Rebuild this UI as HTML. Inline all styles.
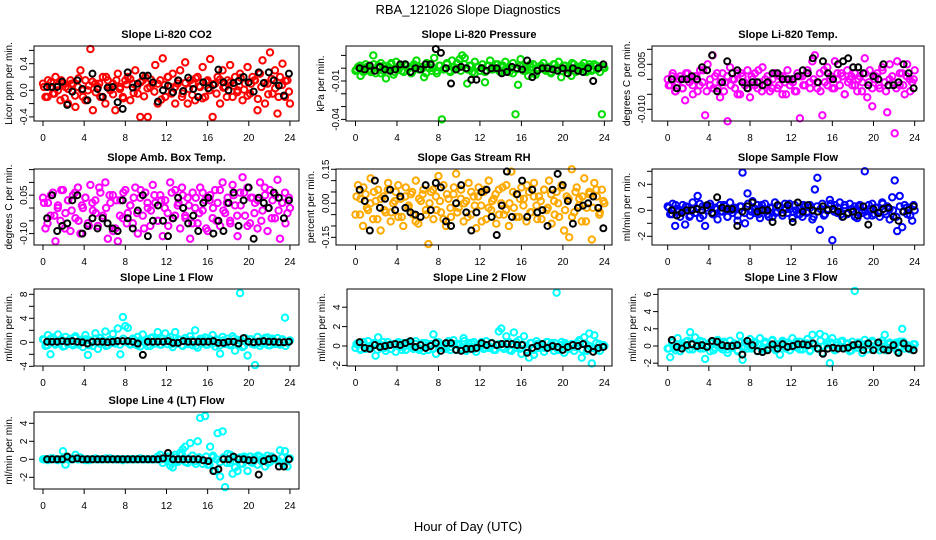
<!DOCTYPE html>
<html><head><meta charset="utf-8"><style>
body{margin:0;background:#fff}
svg{display:block;font-family:"Liberation Sans",sans-serif}
</style></head><body>
<svg id="chart" width="936" height="540" viewBox="0 0 936 540">
<rect width="936" height="540" fill="#fff"/>
<text x="468" y="14" text-anchor="middle" font-size="13">RBA_121026  Slope Diagnostics</text>
<text x="468" y="531" text-anchor="middle" font-size="13">Hour of Day (UTC)</text>
</svg>
<script>
const xTicks = [0,4,8,12,16,20,24];
const titles = ["Slope Li-820 CO2","Slope Li-820 Pressure","Slope Li-820 Temp.","Slope Amb. Box Temp.","Slope Gas Stream RH","Slope Sample Flow","Slope Line 1 Flow","Slope Line 2 Flow","Slope Line 3 Flow","Slope Line 4 (LT) Flow"];
const yTitles = ["Licor ppm per min.","kPa per min.","degrees C per min.","degrees C per min.","percent per min.","ml/min per min.","ml/min per min.","ml/min per min.","ml/min per min.","ml/min per min."];
const colors = ["#ff0000","#00dd00","#ff00ff","#ff00ff","#ffaa00","#0000ff","#00ffff","#00ffff","#00ffff","#00ffff"];
const yTicks = [[-0.4,-0.2,0,0.2,0.4,0.6],[-0.04,-0.03,-0.02,-0.01,0,0.01],[-0.01,-0.005,0,0.005,0.01],[-0.1,-0.05,0,0.05,0.1,0.15],[-0.15,-0.1,-0.05,0,0.05,0.1,0.15],[-2,-1,0,1,2,3],[-4,-2,0,2,4,6,8],[-2,0,2,4],[-2,0,2,4,6],[-2,0,2,4]];
const yLabels = [{"-0.4":"-0.4","0":"0.0","0.4":"0.4"},{"-0.04":"-0.04","-0.01":"-0.01"},{"-0.01":"-0.010","0.005":"0.005"},{"-0.1":"-0.10","0.05":"0.05"},{"-0.15":"-0.15","0":"0.00","0.15":"0.15"},{"-2":"-2","0":"0","2":"2"},{"-4":"-4","0":"0","4":"4","8":"8"},{"-2":"-2","0":"0","2":"2","4":"4"},{"-2":"-2","0":"0","2":"2","4":"4","6":"6"},{"-2":"-2","0":"0","2":"2","4":"4"}];

const colored0 = [0.1,-0.1,0.15,0.05,-0.05,0.2,0,-0.15,0.1,0.05,-0.2,0.15,0.1,-0.25,0.05,0.3,-0.1,0.15,0,0.62,-0.3,0.1,0.05,-0.1,0.2,-0.2,0.15,0,0.1,-0.3,0.25,0.05,-0.1,0.15,0.2,-0.15,0.1,0.3,-0.05,-0.4,0.15,0.2,-0.4,0.05,0.1,0.38,-0.2,0.15,0.48,-0.1,0.2,0.05,0.25,-0.2,0.1,0.3,-0.05,0.42,-0.2,0.15,0.1,-0.15,0.2,0.05,0.35,-0.1,0.15,0.47,-0.4,0.1,0.2,-0.2,0.3,0.05,0.15,0.38,-0.1,0.2,0,0.25,-0.15,0.1,0.35,-0.05,0.2,0.15,-0.3,0.25,0.45,-0.2,0.1,0.57,-0.05,0.3,-0.35,0.2,0.4,-0.1,0.15,-0.2];
const core0 = [0.05,-0.1,0.12,-0.05,0.08,0.15,-0.12,0.02,0.1,-0.08,0.18,0.0,-0.15,0.07,0.13,-0.03,0.1,-0.1,0.2,0.04,-0.06,0.15,0.02,-0.12,0.09,0.17,-0.04,0.06,0.12,-0.09,0.03,0.16,-0.02,0.1,-0.14,0.08,0.2,-0.05,0.05,0.14,-0.1,0.11,0.02,-0.07,0.18,0.06,-0.12,0.13,0.0,0.09,-0.05,0.16,0.04,-0.1,0.12,0.07,-0.03,0.19,0.01,-0.08,0.1,0.15,-0.13,0.05,0.11,-0.06,0.17,0.03,-0.1,0.08,0.14,-0.02];
const black0 = [0.05,0.05,0.05,0.13,-0.22,-0.02,0.15,0.02,-0.15,0.25,0.02,-0.1,0.04,0.05,-0.18,-0.28,0.27,0.04,0.1,0.22,0.22,0.12,-0.17,0.0,0.07,-0.03,0.15,-0.01,0.19,0.02,-0.1,0.12,0.03,0.08,0.31,0.12,0.0,0.11,0.14,0.2,0.12,-0.02,0.27,0.11,0.27,0.15,0.07,-0.08,0.25];
const colored1 = [-0.002,0.001,-0.006,0.000,0.003,-0.001,-0.003,0.010,-0.004,0.002,0.004,-0.002,-0.008,0.001,0.003,-0.005,0.005,-0.001,0.002,-0.003,0.002,0.000,-0.004,0.003,0.006,-0.001,0.001,-0.007,0.004,0.000,-0.002,0.008,-0.004,0.002,-0.040,0.000,0.003,-0.002,0.006,-0.001,0.004,0.007,0.010,0.008,-0.012,0.002,-0.003,0.005,0.001,-0.002,0.003,-0.011,0.002,0.006,-0.001,0.000,0.003,-0.003,0.002,0.005,-0.001,0.001,-0.004,-0.036,-0.013,0.007,0.002,-0.002,-0.006,0.001,0.003,-0.005,0.000,0.002,0.004,-0.002,0.001,-0.004,0.003,0.000,0.005,-0.007,0.002,-0.001,0.001,-0.006,0.003,0.000,-0.002,0.002,0.004,-0.003,0.001,-0.002,0.003,-0.001,0.001,-0.036,0.000];
const core1 = [-0.001,0.002,-0.003,0.001,-0.002,0.003,0.000,-0.004,0.002,-0.001,0.004,-0.003,0.001,-0.002,0.003,0.000,-0.003,0.002,-0.001,0.001,-0.004,0.003,0.000,-0.002,0.002,-0.001,0.004,-0.003,0.001,0.000,-0.002,0.003,-0.001,0.002,-0.004,0.001,0.000,-0.003,0.002,-0.001,0.003,-0.002,0.001,0.000,-0.003,0.004,-0.001,0.002,-0.002,0.001,0.003,-0.004,0.000,0.002,-0.001,0.001,-0.003,0.003,0.000,-0.002,0.002,-0.001,0.004,-0.003,0.001,0.000,-0.002,0.003,-0.001,0.002,-0.003,0.001];
const black1 = [0.000,-0.001,0.002,-0.002,0.001,-0.001,-0.002,-0.001,0.003,0.003,-0.003,0.000,-0.001,0.003,0.003,0.015,0.012,0.000,-0.012,-0.001,0.001,0.000,-0.009,-0.009,0.000,-0.002,0.000,0.000,-0.004,-0.003,0.001,0.000,-0.001,0.006,-0.007,-0.002,0.000,0.000,-0.001,-0.002,0.000,-0.004,0.000,-0.002,-0.003,0.000,-0.010,0.000,0.003];
const colored2 = [0.000,-0.002,0.002,-0.004,-0.001,0.001,-0.003,-0.007,0.002,0.000,-0.002,0.001,-0.004,0.003,-0.001,-0.012,0.005,-0.002,0.008,0.001,-0.003,-0.006,0.002,-0.001,-0.014,0.004,0.000,-0.003,0.002,-0.005,0.001,-0.002,0.003,-0.006,0.000,0.002,-0.003,-0.001,0.004,-0.002,0.001,-0.004,0.000,0.002,-0.003,0.001,-0.005,-0.001,0.003,-0.002,0.000,-0.004,0.002,-0.013,0.001,-0.002,0.003,-0.001,0.006,0.008,-0.003,0.002,-0.012,-0.001,0.004,0.000,-0.003,0.006,0.002,-0.002,0.001,-0.005,0.003,0.000,-0.002,0.002,-0.004,0.001,-0.001,0.007,-0.006,0.003,-0.009,0.000,0.002,-0.003,0.004,-0.001,-0.011,0.005,0.001,-0.018,0.006,-0.002,0.002,-0.005,0.005,0.000,-0.001,0.003];
const core2 = [-0.002,0.001,-0.004,0.000,-0.003,0.002,-0.001,-0.005,0.001,-0.002,0.003,-0.004,0.000,-0.003,0.002,-0.001,-0.004,0.001,-0.002,0.000,-0.005,0.002,-0.001,-0.003,0.001,-0.002,0.003,-0.004,0.000,-0.001,-0.003,0.002,-0.002,0.001,-0.005,0.000,-0.001,-0.004,0.001,-0.002,0.002,-0.003,0.000,-0.001,-0.004,0.003,-0.002,0.001,-0.003,0.000,0.002,-0.005,-0.001,0.001,-0.002,0.000,-0.004,0.002,-0.001,-0.003,0.001,-0.002,0.003,-0.004,0.000,-0.001,-0.003,0.002,-0.002,0.001,-0.004,0.000];
const black2 = [0.000,-0.003,0.000,0.000,0.001,0.000,0.004,0.003,0.008,-0.004,-0.001,0.006,0.002,0.003,-0.001,-0.003,-0.001,-0.001,-0.002,-0.001,0.002,0.002,0.000,0.000,0.000,0.001,0.003,0.002,0.007,-0.001,0.006,0.002,0.000,0.005,0.006,0.007,0.004,0.004,0.002,-0.002,0.001,0.000,0.005,-0.002,-0.002,-0.001,0.005,0.002,-0.003];
const colored3 = [0.04,-0.08,0.02,-0.03,0.06,-0.13,0.01,-0.05,0.07,-0.02,0.03,-0.09,0.05,-0.04,0.08,-0.1,0.0,0.04,-0.06,0.09,-0.01,0.03,-0.07,0.06,-0.03,0.1,-0.12,0.02,0.05,-0.08,-0.13,0.03,-0.04,0.07,-0.02,0.01,-0.06,0.08,-0.1,0.04,-0.03,0.06,0.0,-0.07,0.09,0.02,-0.05,0.05,-0.11,0.03,-0.02,0.1,-0.04,0.07,0.01,-0.08,0.05,-0.03,0.04,-0.12,0.06,0.0,-0.06,0.08,-0.01,0.03,-0.09,0.05,-0.04,0.07,0.02,-0.07,0.1,-0.02,0.04,-0.05,0.09,0.01,-0.11,0.06,0.12,-0.03,0.08,-0.06,0.04,0.02,-0.08,0.1,-0.01,0.05,-0.09,0.07,0.03,-0.04,0.11,-0.12,0.02,0.06,-0.02,0.0];
const core3 = [0.02,-0.06,0.05,-0.03,0.0,0.07,-0.08,0.03,-0.01,0.06,-0.05,0.01,0.04,-0.07,0.02,-0.02,0.08,-0.04,0.0,0.05,-0.09,0.03,-0.03,0.06,-0.06,0.01,0.04,-0.02,0.07,-0.08,0.02,-0.01,0.05,-0.05,0.03,0.0,-0.07,0.06,-0.03,0.02,0.08,-0.04,0.01,-0.06,0.04,-0.02,0.06,-0.08,0.03,0.0,-0.05,0.07,-0.01,0.02,-0.06,0.05,-0.03,0.01,0.06,-0.07,0.04,-0.02,0.03,-0.05,0.08,0.0,-0.04,0.05,-0.01,0.02,-0.06,0.04];
const black3 = [-0.04,0.05,-0.09,-0.07,-0.06,0.03,0.05,-0.1,-0.07,-0.04,-0.08,-0.04,-0.06,-0.08,-0.09,0.03,-0.04,-0.08,-0.01,0.05,-0.11,-0.05,0.01,-0.05,-0.11,-0.04,0.04,0.0,-0.06,-0.03,-0.09,0.02,0.04,-0.1,-0.05,-0.09,0.02,0.06,-0.07,0.03,0.08,-0.12,0.04,0.02,0.0,0.06,0.04,-0.04,0.03];
const colored4 = [-0.05,0.08,0.02,-0.1,0.04,-0.03,0.11,-0.07,0.01,0.06,-0.12,0.03,-0.04,0.09,-0.08,0.0,0.05,-0.06,0.02,-0.1,0.07,-0.02,0.04,-0.05,0.1,-0.09,0.01,0.06,-0.03,-0.18,0.05,-0.07,0.03,0.12,-0.04,0.08,-0.1,0.02,-0.06,0.04,0.13,-0.02,0.06,-0.08,0.01,0.09,-0.05,0.03,-0.11,0.07,-0.01,0.05,-0.07,0.1,-0.03,0.02,-0.09,0.06,0.0,-0.05,0.08,-0.1,0.14,-0.02,0.04,-0.06,0.07,0.02,-0.08,0.05,-0.04,0.09,-0.01,0.03,-0.07,0.06,-0.03,0.1,-0.09,0.01,0.05,-0.06,0.08,-0.12,0.03,-0.15,0.15,-0.04,0.07,0.02,-0.08,0.11,-0.02,0.05,-0.16,0.09,0.03,-0.05,0.06,0.0];
const core4 = [0.03,-0.05,0.07,-0.02,0.0,0.05,-0.07,0.02,-0.03,0.06,-0.04,0.01,0.08,-0.06,0.03,-0.01,0.05,-0.08,0.02,0.04,-0.05,0.0,0.06,-0.03,0.01,-0.07,0.04,-0.02,0.07,-0.04,0.02,0.0,-0.06,0.05,-0.01,0.03,-0.08,0.06,-0.02,0.01,0.04,-0.05,0.07,-0.03,0.0,0.05,-0.06,0.02,-0.01,0.08,-0.04,0.03,-0.07,0.01,0.06,-0.02,0.04,-0.05,0.0,0.07,-0.03,0.02,-0.06,0.05,-0.01,0.03,-0.08,0.04,-0.02,0.06,-0.04,0.01];
const black4 = [0.06,0.01,-0.12,0.1,-0.02,0.02,0.06,-0.03,0.03,-0.02,-0.04,-0.05,-0.06,0.08,-0.03,0.09,0.07,-0.08,-0.1,0.0,0.08,-0.04,-0.12,-0.04,0.05,0.06,-0.06,-0.14,-0.01,0.14,-0.06,0.04,0.1,-0.06,0.06,-0.04,-0.03,-0.1,0.06,0.13,0.08,0.01,-0.09,-0.02,-0.01,0.0,0.03,-0.02,-0.11];
const colored5 = [0.3,-0.3,0.5,-1.2,0.1,-0.5,0.4,-1.1,0.2,-0.4,0.6,-0.2,1.1,-0.6,0.3,-1.2,0.0,0.5,-0.3,0.2,-0.7,0.4,-0.1,0.3,-0.5,0.6,-0.2,0.1,-0.8,0.3,2.9,-1.0,1.3,-0.4,0.7,-0.2,0.4,-0.6,0.1,0.5,-0.3,0.2,-0.5,0.6,-0.1,0.3,-0.4,0.5,-0.2,0.1,-0.6,0.4,-0.3,0.2,-0.5,0.3,-0.1,0.4,-0.7,1.6,2.5,-1.5,0.5,-0.3,0.1,0.8,-2.3,0.4,-0.2,0.6,-0.5,0.2,-0.3,0.5,-0.1,0.3,-0.6,0.4,-0.2,3.0,-0.4,0.1,0.5,-0.3,0.2,-0.5,0.6,-0.1,0.3,-0.7,1.0,2.3,-1.6,1.1,-1.3,0.4,-0.3,0.2,-0.8,0.0];
const core5 = [0.2,-0.3,0.4,-0.1,0.0,0.3,-0.5,0.1,-0.2,0.5,-0.4,0.2,0.3,-0.3,0.1,-0.1,0.4,-0.5,0.0,0.2,-0.4,0.3,-0.2,0.5,-0.1,0.1,-0.3,0.4,0.0,-0.5,0.2,-0.2,0.3,-0.4,0.1,0.5,-0.1,0.0,-0.3,0.4,-0.2,0.2,-0.5,0.3,0.1,-0.4,0.0,0.5,-0.1,0.2,-0.3,0.4,-0.2,0.1,-0.5,0.3,0.0,-0.1,0.4,-0.4,0.2,-0.2,0.5,-0.3,0.1,0.0,-0.5,0.3,-0.1,0.2,-0.4,0.4];
const black5 = [0.0,-0.4,-0.2,0.0,0.0,0.1,0.0,0.4,-0.2,1.0,0.2,0.1,0.1,-1.2,-0.1,0.3,0.6,-0.1,0.0,0.0,-0.9,0.4,-0.2,0.4,-0.9,0.6,-0.1,0.4,0.0,-0.1,0.3,0.0,0.1,-0.1,-0.5,-0.2,-0.1,-0.4,0.3,-1.1,0.1,-0.2,0.1,0.2,-0.5,-0.8,-0.1,0.0,0.3];
const colored6 = [0.5,-0.6,1.2,-2.0,0.8,-0.4,1.3,0.2,-0.7,0.9,-0.3,0.6,-0.5,1.0,-0.2,0.4,-0.8,1.2,-2.1,0.3,-0.6,1.5,-1.1,0.7,-0.3,1.8,-0.5,0.4,1.4,-0.2,2.3,-2.0,4.2,2.7,2.4,-0.4,0.6,-0.3,0.9,-0.7,1.3,-0.1,0.5,-0.6,0.8,-0.2,1.7,-0.4,0.6,1.5,-0.3,0.9,-0.8,1.7,-0.2,0.4,-0.6,0.7,-0.3,1.0,-0.5,2.0,-0.9,0.6,-0.2,0.8,-0.4,0.5,1.2,-0.7,0.3,-1.9,0.9,-0.3,0.6,-0.5,1.0,-1.4,0.4,8.2,-0.8,0.7,-2.2,0.5,-0.3,-3.8,0.9,-0.6,0.4,-0.2,0.8,-0.5,0.6,-0.3,0.7,-0.4,0.5,4.1,-0.1,0.3];
const core6 = [0.4,-0.5,0.6,-0.2,0.1,0.5,-0.6,0.3,-0.3,0.7,-0.4,0.2,0.5,-0.5,0.0,0.6,-0.2,0.3,-0.6,0.4,-0.1,0.2,-0.4,0.6,0.0,-0.3,0.5,-0.5,0.3,0.1,-0.6,0.7,-0.2,0.4,-0.4,0.2,0.6,-0.3,0.0,0.5,-0.5,0.3,-0.1,0.4,-0.6,0.2,0.6,-0.4,0.1,-0.2,0.5,-0.5,0.3,0.0,-0.3,0.6,-0.1,0.4,-0.6,0.2,0.5,-0.4,0.1,-0.2,0.7,-0.5,0.3,0.0,-0.3,0.4,-0.6,0.2];
const black6 = [0.1,0.1,0.1,0.2,0.1,0.2,0.1,0.0,-0.2,0.1,0.1,0.1,0.0,0.1,0.2,0.2,0.2,0.1,-0.2,-2.1,0.1,0.1,0.1,0.1,0.2,-0.1,-0.1,0.2,0.1,0.1,0.1,0.1,0.1,0.2,-0.1,-0.1,0.1,0.1,-0.2,0.7,0.1,0.0,0.1,0.2,0.1,0.1,0.0,0.0,0.1];
const colored7 = [-0.2,0.3,-0.4,0.1,-0.3,0.5,-0.1,0.2,-1.0,0.9,-0.2,0.4,-0.5,0.1,-0.3,0.2,-0.6,0.4,-0.1,0.3,-0.4,0.2,0.0,-0.3,0.5,-0.2,0.1,-0.5,0.3,-0.4,0.2,1.2,-0.8,0.4,-0.2,0.1,-0.3,0.5,-0.1,0.6,-0.4,0.2,-0.2,0.8,-0.5,0.3,-0.1,0.4,-0.6,0.2,0.0,-0.3,0.5,-0.2,0.3,-0.4,0.1,1.5,1.8,-0.3,1.0,0.4,-0.5,1.4,-0.2,0.6,-0.8,1.0,-0.4,-1.2,0.3,-0.9,0.5,-0.2,0.2,-0.6,0.4,-0.1,0.3,-0.5,5.5,-0.2,0.4,-0.7,0.1,-0.3,0.2,-0.5,0.3,0.6,-1.2,0.9,-0.5,1.3,-1.8,1.1,-0.4,0.2,-0.1,0.0];
const core7 = [0.2,-0.3,0.4,-0.1,0.0,0.3,-0.4,0.1,-0.2,0.4,-0.3,0.2,0.3,-0.4,0.0,0.4,-0.1,0.2,-0.4,0.3,-0.1,0.1,-0.3,0.4,0.0,-0.2,0.3,-0.4,0.2,0.1,-0.4,0.5,-0.1,0.3,-0.3,0.1,0.4,-0.2,0.0,0.3,-0.4,0.2,-0.1,0.3,-0.4,0.1,0.4,-0.3,0.1,-0.1,0.3,-0.4,0.2,0.0,-0.2,0.4,-0.1,0.3,-0.4,0.1,0.3,-0.3,0.1,-0.1,0.5,-0.4,0.2,0.0,-0.2,0.3,-0.5,0.1];
const black7 = [0.4,-0.2,-0.3,0.1,-0.1,0.0,0.1,0.2,0.1,0.3,0.5,-0.1,0.1,-0.2,0.0,0.3,-0.5,0.3,0.3,-0.4,-0.5,-0.3,-0.3,-0.2,0.3,0.1,0.3,0.1,0.2,0.2,0.2,0.1,0.1,-0.7,-0.2,0.0,0.2,-0.2,0.0,-0.1,-0.4,-0.1,0.1,0.0,0.2,-0.3,-0.6,-0.2,-0.1];
const colored8 = [-0.3,-1.3,0.5,-0.2,0.9,-0.6,0.3,-0.1,0.6,1.6,-0.4,1.0,0.2,-0.3,0.5,-1.5,0.1,-0.6,0.4,-0.2,0.7,0.0,-0.4,0.3,-0.8,0.6,-0.2,0.2,-0.5,1.2,-1.6,0.4,-0.3,0.8,-0.1,0.3,-0.6,0.9,-0.2,0.5,-0.4,0.1,0.7,-0.3,0.2,-1.0,0.6,-0.1,0.4,-0.5,0.9,0.0,-0.2,0.5,-0.4,0.3,0.8,-0.6,1.3,0.1,-0.3,1.4,-0.8,1.1,0.2,-2.0,0.9,-0.5,0.4,-0.1,0.6,-0.3,0.2,-0.6,0.5,6.4,-0.2,0.3,-0.8,0.7,-0.4,0.1,0.4,-0.3,0.2,-0.5,0.6,1.3,-0.2,0.4,-0.1,0.3,-0.6,0.5,2.0,-0.3,0.1,0.0,-0.2,0.2];
const core8 = [-0.3,0.4,-0.5,0.2,0.0,0.5,-0.4,0.3,-0.1,0.6,-0.3,0.1,0.4,-0.5,0.2,-0.2,0.5,-0.4,0.0,0.3,-0.6,0.4,-0.1,0.2,-0.3,0.5,0.1,-0.4,0.3,-0.2,0.6,-0.5,0.0,0.4,-0.3,0.2,-0.1,0.5,-0.4,0.1,0.3,-0.5,0.2,-0.2,0.6,0.0,-0.3,0.4,-0.4,0.1,0.5,-0.2,0.3,-0.5,0.0,0.4,-0.1,0.2,-0.4,0.6,-0.3,0.1,0.3,-0.5,0.2,-0.1,0.4,-0.3,0.5,0.0,-0.4,0.2];
const black8 = [0.7,-0.1,-0.3,0.1,0.2,0.0,0.1,-0.1,0.6,0.5,0.1,0.0,0.0,0.1,-1.0,0.6,0.1,-0.6,-0.7,-0.5,0.2,-0.3,0.2,-0.1,0.0,0.2,0.2,0.1,0.3,-0.3,-0.9,-0.3,-0.2,-0.3,-0.3,-0.2,0.1,0.2,-0.5,0.3,-0.5,0.4,-0.4,-0.5,0.1,-0.8,0.3,-0.3,-0.5];
const colored9 = [0.0,0.0,-0.1,0.0,0.1,0.0,0.0,0.0,0.9,-0.6,0.1,0.0,0.0,0.5,0.0,0.2,0.0,-0.1,0.0,0.0,0.0,0.1,0.0,0.0,0.0,0.0,0.0,0.1,0.0,0.0,0.0,0.0,-0.1,0.0,0.0,0.0,0.0,0.0,0.0,0.1,0.0,0.0,0.0,0.0,0.0,0.0,0.3,0.5,-0.4,0.2,0.3,-0.7,-0.9,0.5,-0.3,0.7,1.1,1.4,-0.4,1.8,0.4,-0.2,2.0,4.6,-0.5,4.8,-0.6,1.4,0.2,-1.3,2.9,-1.9,3.1,-3.1,0.6,-0.4,-1.6,-0.9,-1.3,0.2,-0.5,0.1,-1.3,0.3,-0.4,0.0,-0.6,0.3,0.1,-0.8,0.4,-0.3,0.2,0.0,-0.1,1.0,-0.5,0.9,-0.8,0.1];
const core9 = [0.0,0.0,0.1,0.0,-0.1,0.0,0.0,0.0,0.0,0.1,0.0,0.0,0.0,-0.1,0.0,0.0,0.0,0.0,0.1,0.0,0.0,0.0,0.0,0.0,0.0,0.0,0.0,0.0,0.0,0.0,0.0,0.0,0.0,0.0,0.0,0.0,0.3,-0.4,0.2,-0.2,0.5,-0.3,0.1,0.4,-0.5,0.2,-0.1,0.3,-0.6,0.4,0.0,-0.3,0.2,-0.4,0.5,-0.2,0.1,-0.5,0.3,0.0,-0.3,0.2,0.4,-0.2,0.1,-0.4,0.3,0.0,-0.2,0.2,-0.3,0.1];
const black9 = [0.0,0.0,0.0,0.0,0.3,0.0,0.1,0.0,0.0,0.0,0.0,0.0,0.0,0.0,0.0,0.0,0.0,0.0,0.0,0.0,0.0,0.0,0.0,0.1,0.7,0.0,0.0,0.0,0.0,0.0,0.0,-0.1,-0.2,-1.3,-1.1,0.0,0.0,0.3,0.0,0.0,-0.1,-0.1,-1.7,-0.2,0.0,0.1,-0.8,-0.8,0.0];
const coloredSeries = [colored0,colored1,colored2,colored3,colored4,colored5,colored6,colored7,colored8,colored9];
const coreSeries = [core0,core1,core2,core3,core4,core5,core6,core7,core8,core9];
const blackSeries = [black0,black1,black2,black3,black4,black5,black6,black7,black8,black9];

// layout (pixels)
const boxes = [[34,299,46,121],[346,612,46,121],[652,924,46,121],[34,299,169,245],[336,612,169,245],[652,924,169,245],[34,299,289,366],[347,612,289,366],[658,924,289,366],[34,299,412,489]];
const xMaps = [[43,10.29],[355.5,10.37],[667.7,10.29],[43,10.29],[355.5,10.37],[667.7,10.29],[43,10.29],[355.5,10.37],[667.7,10.29],[43,10.29]];
const yMaps = [[90.3,66.5],[68.2,1280],[79.3,3000],[208,256],[203.3,226.7],[210.3,13],[342.3,6],[346,9.7],[346,8.6],[459.3,9]];

const NS = "http://www.w3.org/2000/svg";
const svg = document.getElementById('chart');
function mk(tag, attrs, parent){const e=document.createElementNS(NS,tag);for(const k in attrs)e.setAttribute(k,attrs[k]);(parent||svg).appendChild(e);return e;}

for(let p=0;p<10;p++){
  const [L,R,T,B]=boxes[p];
  const xs=h=>xMaps[p][0]+h*xMaps[p][1];
  const ys=v=>yMaps[p][0]-v*yMaps[p][1];
  const g=mk('g',{});
  
  
  const t=mk('text',{x:(L+R)/2,y:T-8,'text-anchor':'middle','font-size':11,'font-weight':'bold'},g);
  t.textContent=titles[p];
  
  
  const cx=(L-22), cy=(T+B)/2;
  const yt=mk('text',{x:cx,y:cy,'text-anchor':'middle','font-size':10,transform:`rotate(-90 ${cx} ${cy})`},g);
  yt.textContent=yTitles[p];
  
  
  const cs=coloredSeries[p];
  cs.forEach((v,i)=>{
    const h=i*24/(cs.length-1);
    const c=mk('circle',{cx:xs(h),cy:ys(v),r:3.2,fill:'none',stroke:colors[p],'stroke-width':2},g);
    
    
  });
  const cr=coreSeries[p];
  cr.forEach((v,i)=>{
    const h=0.1+i*23.8/(cr.length-1);
    const c=mk('circle',{cx:xs(h),cy:ys(v),r:3.2,fill:'none',stroke:colors[p],'stroke-width':2},g);
    
    
  });
  const bs=blackSeries[p];
  bs.forEach((v,i)=>{
    const h=0.4+i*23.5/(bs.length-1);
    const c=mk('circle',{cx:xs(h),cy:ys(v),r:3,fill:'none',stroke:'#000','stroke-width':2},g);
    
    
  });
  const box=mk('rect',{x:L,y:T,width:R-L,height:B-T,fill:'none',stroke:'#000','stroke-width':1},g);
  
  
  xTicks.forEach(h=>{
    const x=xs(h);
    mk('line',{x1:x,x2:x,y1:B,y2:B+5,stroke:'#000'},g);
    const tx=mk('text',{x:x,y:B+20,'text-anchor':'middle','font-size':10},g);
    tx.textContent=h;
    
    
  });
  yTicks[p].forEach(v=>{
    const y=ys(v);
    mk('line',{x1:L-5,x2:L,y1:y,y2:y,stroke:'#000'},g);
    const lab=yLabels[p][String(v)];
    if(lab!==undefined){
      const lx=L-7;
      const tl=mk('text',{x:lx,y:y,'text-anchor':'middle','font-size':10,transform:`rotate(-90 ${lx} ${y})`},g);
      tl.textContent=lab;
      
      
    }
  });
}
</script>
</body></html>
